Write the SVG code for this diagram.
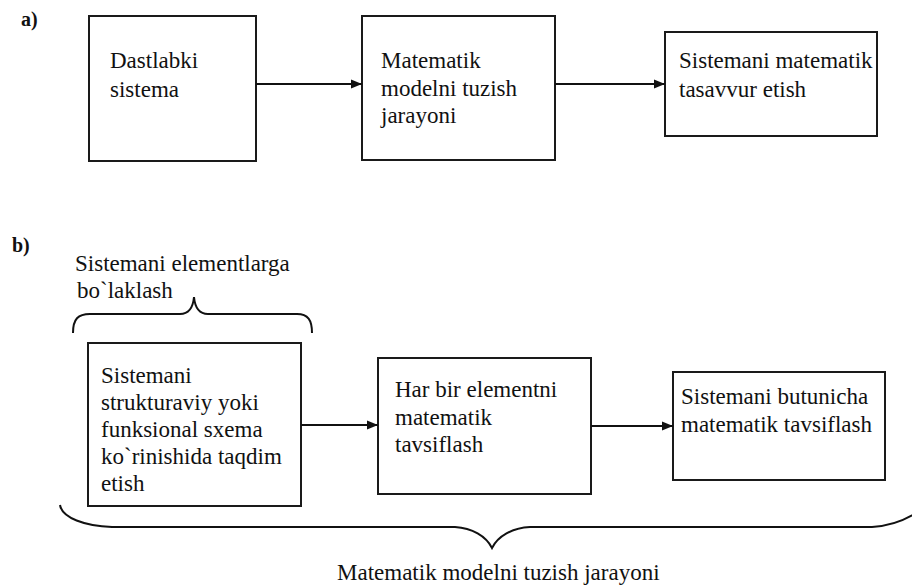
<svg xmlns="http://www.w3.org/2000/svg" width="912" height="587" viewBox="0 0 912 587" font-family="Liberation Serif, serif">
<defs>
<style>
.box{fill:#fff;stroke:#1a1a1a;stroke-width:2}
.t{font-size:23px;fill:#111}
.lbl{font-size:20px;font-weight:bold;fill:#111}
.con{stroke:#111;stroke-width:2;fill:none}
.brace{stroke:#111;stroke-width:2;fill:none}
</style>
<marker id="ah" markerUnits="userSpaceOnUse" markerWidth="12" markerHeight="10" refX="11" refY="5" orient="auto">
<path d="M0,0.5 L11,5 L0,9.5 z" fill="#111"/>
</marker>
</defs>
<rect width="912" height="587" fill="#fff"/>
<text class="lbl" x="21" y="26">a)</text>
<text class="lbl" x="12" y="252">b)</text>

<g id="a1">
<rect class="box" x="89" y="16" width="167" height="145"/>
<text class="t" x="110" y="68">Dastlabki</text>
<text class="t" x="110" y="97">sistema</text>
</g>
<g id="a2">
<rect class="box" x="362" y="16" width="193" height="144"/>
<text class="t" x="381" y="68">Matematik</text>
<text class="t" x="381" y="96">modelni tuzish</text>
<text class="t" x="381" y="123">jarayoni</text>
</g>
<g id="a3">
<rect class="box" x="665" y="32" width="212" height="104"/>
<text class="t" x="679" y="68">Sistemani matematik</text>
<text class="t" x="679" y="97">tasavvur etish</text>
</g>

<g id="b-top-label">
<text class="t" x="75" y="271">Sistemani elementlarga</text>
<text class="t" x="77" y="298">bo`laklash</text>
<path class="brace" d="M73,333 C73,319 78,314 90,314 L180,314 C188,314 193,308 194,297 C195,308 200,314 208,314 L297,314 C308,314 312,320 312,333"/>
</g>
<g id="b1">
<rect class="box" x="88" y="343" width="213" height="163"/>
<text class="t" x="101" y="383">Sistemani</text>
<text class="t" x="101" y="410">strukturaviy yoki</text>
<text class="t" x="101" y="437">funksional sxema</text>
<text class="t" x="101" y="464">ko`rinishida taqdim</text>
<text class="t" x="101" y="491">etish</text>
</g>
<g id="b2">
<rect class="box" x="378" y="358" width="213" height="136"/>
<text class="t" x="395" y="397">Har bir elementni</text>
<text class="t" x="395" y="425">matematik</text>
<text class="t" x="395" y="452">tavsiflash</text>
</g>
<g id="b3">
<rect class="box" x="673" y="372" width="212" height="108"/>
<text class="t" x="681" y="404">Sistemani butunicha</text>
<text class="t" x="681" y="432">matematik tavsiflash</text>
</g>
<g id="b-bottom-label">
<path class="brace" d="M60,505 C62,518 85,526 112,527 L455,527 C472,528 486,536 492,548 C498,536 512,528 530,527 L872,527 C890,526 905,520 916,513"/>
<text class="t" x="337" y="580">Matematik modelni tuzish jarayoni</text>
</g>

<g id="connectors">
<line class="con" x1="256" y1="84" x2="362" y2="84" marker-end="url(#ah)"/>
<line class="con" x1="555" y1="84" x2="665" y2="84" marker-end="url(#ah)"/>
<line class="con" x1="301" y1="425" x2="378" y2="425" marker-end="url(#ah)"/>
<line class="con" x1="591" y1="426" x2="673" y2="426" marker-end="url(#ah)"/>
</g>
</svg>
